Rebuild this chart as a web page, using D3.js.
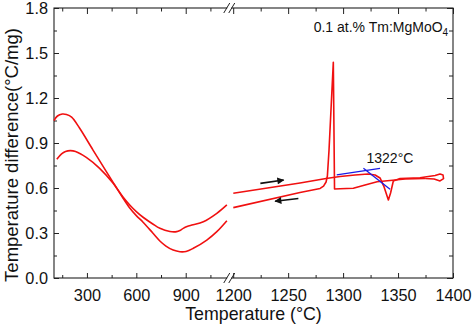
<!DOCTYPE html>
<html><head><meta charset="utf-8">
<script src="https://cdn.jsdelivr.net/npm/d3@7"></script>
<style>
html,body{margin:0;padding:0;background:#fff;}
svg{display:block;font-family:"Liberation Sans",Arial,sans-serif;}
</style></head><body>
<svg id="chart" width="474" height="324"></svg>
<script>
// ---------------- data ----------------
// Low-temperature part (left of axis break)
const curveA_T = [100, 121, 150, 176, 207, 255, 337, 418, 470, 515, 560, 600, 641, 700, 743, 780, 824, 865, 902, 946, 1028, 1089, 1150];
const curveA_V = [1.049, 1.08, 1.093, 1.09, 1.073, 1.0, 0.853, 0.709, 0.618, 0.54, 0.467, 0.416, 0.372, 0.3, 0.247, 0.213, 0.186, 0.175, 0.177, 0.198, 0.253, 0.309, 0.382];
const curveB_T = [117, 146, 170, 199, 231, 296, 377, 458, 519, 560, 600, 641, 700, 743, 804, 845, 865, 885, 908, 937, 1007, 1089, 1150];
const curveB_V = [0.791, 0.827, 0.843, 0.849, 0.843, 0.804, 0.731, 0.633, 0.54, 0.487, 0.443, 0.405, 0.36, 0.331, 0.31, 0.309, 0.317, 0.331, 0.343, 0.353, 0.375, 0.431, 0.487];
// High-temperature part (right of axis break)
const heating_T = [1200.1, 1260.8, 1284.5, 1297.2, 1310.9, 1322.7, 1329.1, 1333.6, 1337.3, 1341.2, 1343.2, 1345.7, 1351.8, 1370.0, 1383.7, 1388.2, 1390.9, 1391.4, 1388.2, 1382.8, 1374.6];
const heating_V = [0.565, 0.633, 0.663, 0.677, 0.687, 0.693, 0.687, 0.667, 0.607, 0.52, 0.567, 0.647, 0.663, 0.668, 0.683, 0.693, 0.687, 0.663, 0.647, 0.66, 0.663];
const cooling_T = [1374.6, 1356.4, 1342.7, 1330.9, 1320.0, 1309.3, 1297.2, 1292.2, 1291.1, 1287.2, 1285.7, 1284.5, 1282.2, 1279.1, 1260.8, 1200.1];
const cooling_V = [0.663, 0.66, 0.65, 0.642, 0.62, 0.598, 0.595, 0.593, 1.438, 0.853, 0.68, 0.64, 0.613, 0.597, 0.57, 0.469];
// Onset tangent construction
const tangent1_T = [1294.2, 1333.6];
const tangent1_V = [0.687, 0.731];
const tangent2_T = [1318.5, 1342.7];
const tangent2_V = [0.731, 0.591];
// Direction arrows
const arrowHeat_T = [1224.7, 1245.9];
const arrowHeat_V = [0.631, 0.653];
const arrowCool_T = [1259.3, 1238.1];
const arrowCool_V = [0.53, 0.512];
// Ticks
const yMajor = [0, 0.3, 0.6, 0.9, 1.2, 1.5, 1.8];
const yMinor = [0.15, 0.45, 0.75, 1.05, 1.35, 1.65];
const xMajorLeft = [300, 600, 900];
const xMinorLeft = [150, 450, 750, 1050];
const xMajorRight = [1200, 1250, 1300, 1350, 1400];
const xMinorRight = [1225, 1275, 1325, 1375];
// Texts
const onsetLabel = "1322°C";
const onsetPos = [1321.3, 0.764];
const sampleLabel = "0.1 at.% Tm:MgMoO";
const sampleSub = "4";
const samplePos = [1395.6, 1.638];
const xTitle = "Temperature (°C)";
const yTitle = "Temperature difference(°C/mg)";

// ---------------- chart ----------------
const svg = d3.select("#chart");
const P = {left: 54, right: 453, top: 8, bottom: 278};
const xL = d3.scaleLinear().domain([100, 1172]).range([54, 230.5]);
const xR = d3.scaleLinear().domain([1198, 1400]).range([231, 453]);
const y = d3.scaleLinear().domain([0, 1.8]).range([P.bottom, P.top]);
const axisColor = "#222";
const fontTick = 16.3;

function styleAxis(g) {
  g.select(".domain").remove();
  g.attr("color", axisColor).attr("font-size", fontTick)
   .attr("font-family", '"Liberation Sans",Arial,sans-serif');
  g.selectAll("line").attr("stroke-width", 1);
  g.selectAll("text").attr("fill", "#111");
  g.selectAll("text").filter(function () { return this.textContent === ""; }).remove();
}
const noLab = () => "";

// bottom axes
[[xL, xMajorLeft, xMinorLeft], [xR, xMajorRight, xMinorRight]].forEach(([sc, maj, min]) => {
  svg.append("g").attr("transform", `translate(0,${P.bottom})`)
    .call(d3.axisBottom(sc).tickValues(maj).tickSizeInner(-5).tickSizeOuter(0).tickPadding(11).tickFormat(d3.format("d")))
    .call(styleAxis);
  svg.append("g").attr("transform", `translate(0,${P.bottom})`)
    .call(d3.axisBottom(sc).tickValues(min).tickSizeInner(-3).tickSizeOuter(0).tickFormat(noLab))
    .call(styleAxis);
  svg.append("g").attr("transform", `translate(0,${P.top})`)
    .call(d3.axisTop(sc).tickValues(maj).tickSizeInner(-6).tickSizeOuter(0).tickFormat(noLab))
    .call(styleAxis);
  svg.append("g").attr("transform", `translate(0,${P.top})`)
    .call(d3.axisTop(sc).tickValues(min).tickSizeInner(-3.5).tickSizeOuter(0).tickFormat(noLab))
    .call(styleAxis);
});
// left axis
svg.append("g").attr("transform", `translate(${P.left},0)`)
  .call(d3.axisLeft(y).tickValues(yMajor).tickSizeInner(-5).tickSizeOuter(0).tickPadding(6).tickFormat(d3.format(".1f")))
  .call(styleAxis);
svg.append("g").attr("transform", `translate(${P.left},0)`)
  .call(d3.axisLeft(y).tickValues(yMinor).tickSizeInner(-3).tickSizeOuter(0).tickFormat(noLab))
  .call(styleAxis);
// right axis
svg.append("g").attr("transform", `translate(${P.right},0)`)
  .call(d3.axisRight(y).tickValues(yMajor).tickSizeInner(-6).tickSizeOuter(0).tickFormat(noLab))
  .call(styleAxis);
svg.append("g").attr("transform", `translate(${P.right},0)`)
  .call(d3.axisRight(y).tickValues(yMinor).tickSizeInner(-4).tickSizeOuter(0).tickFormat(noLab))
  .call(styleAxis);

// frame
svg.append("rect").attr("x", P.left).attr("y", P.top)
  .attr("width", P.right - P.left).attr("height", P.bottom - P.top)
  .attr("fill", "none").attr("stroke", axisColor).attr("stroke-width", 1.1);

// axis break marks
const brkX = (xL.range()[1] + xR.range()[0]) / 2 - 1.5;
[P.bottom, P.top].forEach(yy => {
  svg.append("rect").attr("x", brkX - 2).attr("y", yy - 2).attr("width", 4).attr("height", 4).attr("fill", "#fff");
  [brkX - 2.5, brkX + 2.5].forEach(cx => {
    svg.append("line").attr("x1", cx - 3).attr("y1", yy + 5).attr("x2", cx + 3).attr("y2", yy - 5)
      .attr("stroke", axisColor).attr("stroke-width", 1);
  });
});

// curves
const zip = (T, V) => T.map((t, i) => [t, V[i]]);
const lineL = d3.line().x(d => xL(d[0])).y(d => y(d[1])).curve(d3.curveCatmullRom.alpha(0.5));
const lineR = d3.line().x(d => xR(d[0])).y(d => y(d[1]));
const red = "#f01010";
[zip(curveA_T, curveA_V), zip(curveB_T, curveB_V)].forEach(d => {
  svg.append("path").attr("d", lineL(d)).attr("fill", "none").attr("stroke", red).attr("stroke-width", 1.6);
});
[zip(heating_T, heating_V), zip(cooling_T, cooling_V)].forEach(d => {
  svg.append("path").attr("d", lineR(d)).attr("fill", "none").attr("stroke", red)
    .attr("stroke-width", 1.6).attr("stroke-linejoin", "round");
});
// tangents
[zip(tangent1_T, tangent1_V), zip(tangent2_T, tangent2_V)].forEach(d => {
  svg.append("path").attr("d", lineR(d)).attr("fill", "none").attr("stroke", "#1a1ae6").attr("stroke-width", 1.3);
});

// arrows
svg.append("defs").append("marker").attr("id", "ah")
  .attr("viewBox", "0 0 10 10").attr("refX", 9).attr("refY", 5)
  .attr("markerWidth", 9).attr("markerHeight", 7).attr("markerUnits", "userSpaceOnUse")
  .attr("orient", "auto")
  .append("path").attr("d", "M0,0 L10,5 L0,10 Z").attr("fill", "#111");
[zip(arrowHeat_T, arrowHeat_V), zip(arrowCool_T, arrowCool_V)].forEach(d => {
  svg.append("path").attr("d", lineR(d)).attr("fill", "none").attr("stroke", "#111")
    .attr("stroke-width", 1.6).attr("marker-end", "url(#ah)");
});

// texts
svg.append("text").attr("x", xR(onsetPos[0])).attr("y", y(onsetPos[1]))
  .attr("font-size", 14).attr("fill", "#111").text(onsetLabel);
const st = svg.append("text").attr("x", xR(samplePos[0])).attr("y", y(samplePos[1]))
  .attr("font-size", 14).attr("fill", "#111").attr("text-anchor", "end");
st.append("tspan").text(sampleLabel);
st.append("tspan").attr("font-size", 10).attr("dy", 4).text(sampleSub);

svg.append("text").attr("x", (P.left + P.right) / 2).attr("y", 320)
  .attr("text-anchor", "middle").attr("font-size", 17.8).attr("fill", "#111").text(xTitle);
svg.append("text").attr("transform", "translate(17.5,155) rotate(-90)")
  .attr("text-anchor", "middle").attr("font-size", 18.5).attr("fill", "#111").text(yTitle);
</script>
</body></html>
